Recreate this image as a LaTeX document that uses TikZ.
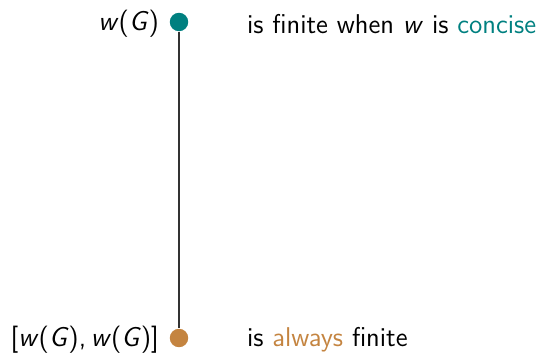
\documentclass[tikz,border=0pt]{standalone}
\usepackage{tikz}
\usetikzlibrary{positioning}
\renewcommand{\familydefault}{\sfdefault}
\definecolor{conciseteal}{RGB}{0,128,128}
\definecolor{alwaysorange}{RGB}{196,132,64}
\newcommand{\wofG}{\textit{w}(\textit{G})}

\begin{document}
\begin{tikzpicture}[
			x=0.423pt, y=-0.423pt,
			font=\fontsize{11.5}{13.5}\selectfont,
			dot/.style={circle, minimum size=7.8pt, inner sep=0pt},
			link/.style={draw=black!80, line width=0.45pt},
			lefttext/.style={anchor=east, inner sep=0pt, yshift=-0.8pt},
			righttext/.style={anchor=west, inner sep=0pt, yshift=-0.8pt}
			]
			\useasboundingbox (0,0) rectangle (539,353);
			
			% --- PUNKTE ---
			\node[dot, fill=conciseteal] (top) at (179,22) {};
			\node[dot, fill=alwaysorange] (bottom) at (179,338) {};
			
			% Verbindung
			\draw[link] (top) -- (bottom);
			
			% --- LINKE BESCHRIFTUNG ---
			\node[lefttext, left=4.2pt of top] (wg) {\wofG};
			\node[lefttext, left=4.2pt of bottom] (comm) {[\wofG,\,\wofG]};
			
			% --- RECHTE BESCHRIFTUNG ---
			\node[righttext, right=24.5pt of top] (concise) {is finite when \textit{w} is \textcolor{conciseteal}{concise}};
			\node[righttext, right=24.5pt of bottom] (always) {is \textcolor{alwaysorange}{always} finite};
			
		\end{tikzpicture}
\end{document}
